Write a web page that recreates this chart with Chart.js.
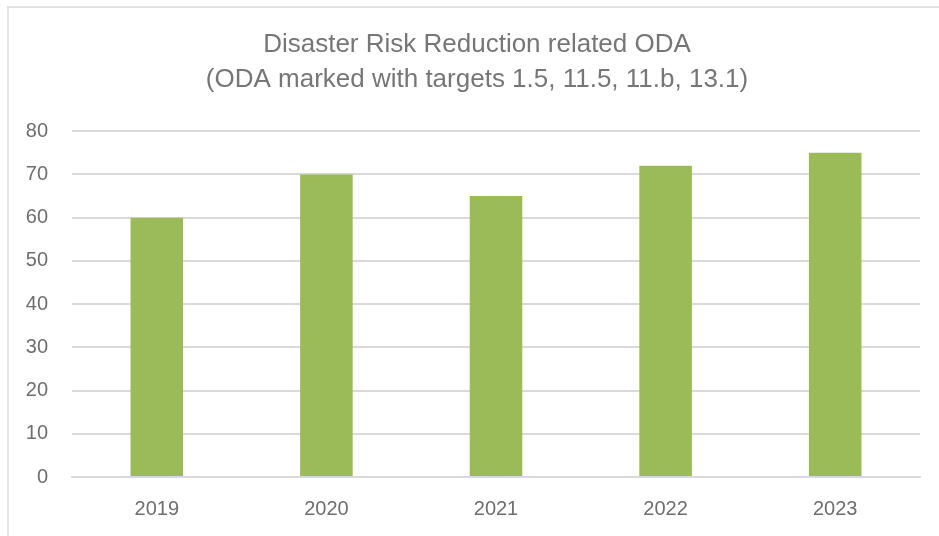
<!DOCTYPE html>
<html>
<head>
<meta charset="utf-8">
<script src="https://cdn.jsdelivr.net/npm/chart.js@4.4.0/dist/chart.umd.min.js"></script>
<style>
  html, body { margin: 0; padding: 0; background: #fff; }
  #wrap { position: relative; width: 939px; height: 536px; overflow: hidden; }
  #frame { position: absolute; left: 7px; top: 6px; width: 1000px; height: 600px;
           border-left: 2px solid #e3e3e3; border-top: 2px solid #e3e3e3; }
  canvas { position: absolute; left: 0; top: 0; }
</style>
</head>
<body>
<div id="wrap">
  <div id="frame"></div>
  <canvas id="chart" width="939" height="536"></canvas>
</div>
<script>
const years = ['2019', '2020', '2021', '2022', '2023'];
const odaValues = [60, 70, 65, 72, 75];
const titleLines = ['Disaster Risk Reduction related ODA', '(ODA marked with targets 1.5, 11.5, 11.b, 13.1)'];

const textGrey = '#6e6e6e';
const fontFamily = '"Liberation Sans", Arial, sans-serif';

// the original title sits a bit right of the plot centre
const shiftTitle = {
    id: 'shiftTitle',
    afterLayout(chart) {
        const t = chart.titleBlock;
        if (t) { t.left += 17; t.right += 17; }
    }
};

new Chart(document.getElementById('chart'), {
    type: 'bar',
    data: {
        labels: years,
        datasets: [{
            data: odaValues,
            backgroundColor: '#9BBB59',
            barPercentage: 0.31,
            categoryPercentage: 1
        }]
    },
    options: {
        responsive: false,
        animation: false,
        layout: { padding: { left: 0, right: 19, top: 0, bottom: 0 } },
        plugins: {
            legend: { display: false },
            tooltip: { enabled: false },
            title: {
                display: true,
                text: titleLines,
                color: '#767676',
                font: { family: fontFamily, size: 26, weight: 'normal', lineHeight: 1.35 },
                padding: { top: 27, bottom: 34 }
            }
        },
        scales: {
            x: {
                grid: { display: false, drawTicks: false },
                border: { display: true, color: '#d9d9d9', width: 2 },
                ticks: { color: textGrey, font: { family: fontFamily, size: 20 }, padding: 20 },
                afterFit: (s) => { s.height = 59; }
            },
            y: {
                min: 0,
                max: 80,
                ticks: { stepSize: 10, color: textGrey, font: { family: fontFamily, size: 20 }, padding: 24 },
                grid: { color: '#d9d9d9', lineWidth: 2, drawTicks: false },
                border: { display: false },
                afterFit: (s) => { s.width = 72; }
            }
        }
    },
    plugins: [shiftTitle]
});
</script>
</body>
</html>
